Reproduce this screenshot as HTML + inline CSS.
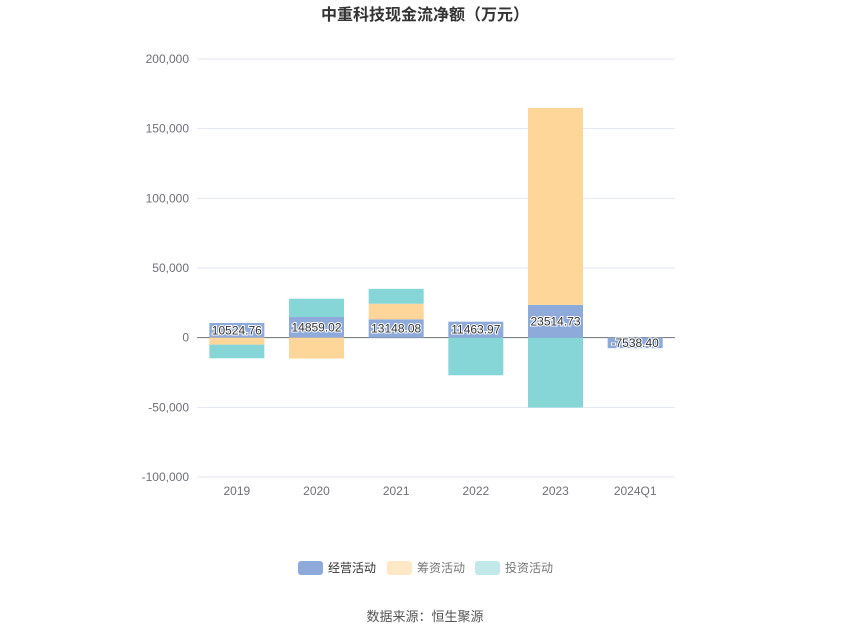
<!DOCTYPE html>
<html><head><meta charset="utf-8"><style>
body{margin:0;background:#fff;}
svg{display:block;font-family:"Liberation Sans","Noto Sans CJK SC",sans-serif;}
</style></head><body>
<svg id="chart" width="850" height="637" viewBox="0 0 850 637">
<text x="425" y="20" text-anchor="middle" font-size="16" font-weight="bold" fill="#333">中重科技现金流净额（万元）</text>
<g id="grid"></g><g id="bars"></g><g id="labels"></g>
<g>
<g><rect x="298" y="561" width="25" height="14" rx="3" fill="#8eaadb"/><text x="328" y="572" font-size="12" fill="#333">经营活动</text></g>
<g><rect x="387" y="561" width="25" height="14" rx="3" fill="#ffe8c6"/><text x="417" y="572" font-size="12" fill="#777">筹资活动</text></g>
<g><rect x="475" y="561" width="25" height="14" rx="3" fill="#c2e9ea"/><text x="505" y="572" font-size="12" fill="#777">投资活动</text></g>
</g>
<text x="425" y="621" text-anchor="middle" font-size="13" fill="#555">数据来源：恒生聚源</text>
</svg>
<script>
const categories=["2019","2020","2021","2022","2023","2024Q1"];
const operating=[10524.76,14859.02,13148.08,11463.97,23514.73,-7538.40];
const financing=[-5000,-15000,11200,0,141400,0];
const investing=[-9800,13100,10700,-27000,-50200,0];
const yTicks=[200000,150000,100000,50000,0,-50000,-100000];
const NS="http://www.w3.org/2000/svg";
const x0=197,x1=675,yTop=59,yBot=477,yMax=200000,yMin=-100000;
function y(v){return yTop+(yMax-v)/(yMax-yMin)*(yBot-yTop);}
const bw=(x1-x0)/categories.length;
function xc(i){return x0+bw*(i+0.5);}
function mk(tag,attrs,parent){const e=document.createElementNS(NS,tag);for(const k in attrs)e.setAttribute(k,attrs[k]);parent.appendChild(e);return e;}
const grid=document.getElementById('grid'),bars=document.getElementById('bars'),labels=document.getElementById('labels');
yTicks.forEach(t=>{
 const l=mk('line',{x1:x0,x2:x1,y1:y(t),y2:y(t),stroke:t===0?'#6e7079':'#e0e6f1'},grid);
 
 
 const tx=mk('text',{x:189,y:y(t)+4,'text-anchor':'end','font-size':12,fill:'#6e7079'},grid);
 tx.textContent=t.toLocaleString('en-US');
 
 
});
categories.forEach((c,i)=>{
 const tx=mk('text',{x:xc(i),y:495,'text-anchor':'middle','font-size':12,fill:'#6e7079'},grid);
 tx.textContent=c;
 
 
});
const series=[[operating,'#8eaadb','operating'],[financing,'#ffd699','financing'],[investing,'#86d6d8','investing']];
categories.forEach((c,i)=>{
 let pos=0,neg=0;
 series.forEach(([arr,col,nm])=>{
  const v=arr[i]; if(!v)return;
  let a,b; if(v>=0){a=pos;b=pos+v;pos=b;}else{a=neg;b=neg+v;neg=b;}
  const top=y(Math.max(a,b)),h=Math.abs(y(a)-y(b));
  const r=mk('rect',{x:xc(i)-27.5,y:top,width:55,height:h,fill:col},bars);
  
  
 });
 const v=operating[i];
 const ly=(y(0)+y(v))/2+4;
 const t=mk('text',{x:xc(i),y:ly,'text-anchor':'middle','font-size':12,fill:'#333',stroke:'#fff','stroke-width':2,'paint-order':'stroke'},labels);
 t.textContent=v.toFixed(2);
 
 
});
</script>
</body></html>
